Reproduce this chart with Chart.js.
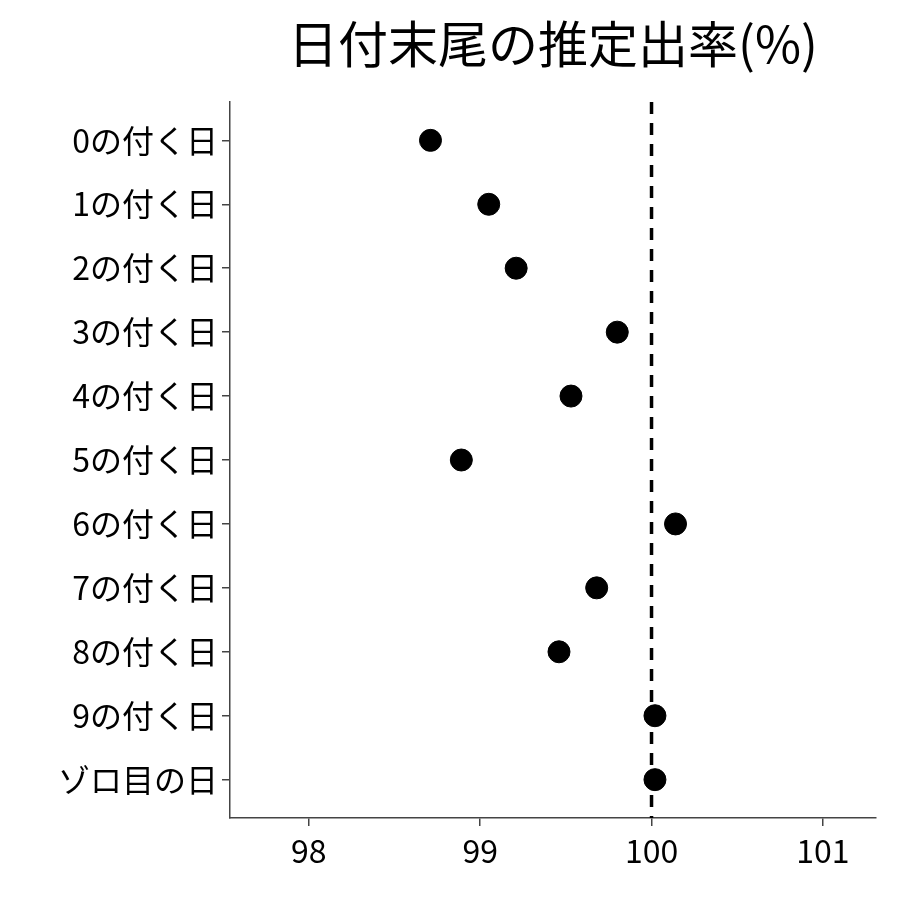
<!DOCTYPE html>
<html>
<head>
<meta charset="utf-8">
<script src="https://cdn.jsdelivr.net/npm/chart.js@4/dist/chart.umd.min.js"></script>
<style>
  body { margin: 0; background: #fff; }
  #wrap { width: 900px; height: 900px; }
</style>
</head>
<body>
<div id="wrap"><canvas id="chart" width="900" height="900"></canvas></div>
<script>
const title = '日付末尾の推定出率(%)'
const categories = ['0の付く日', '1の付く日', '2の付く日', '3の付く日', '4の付く日', '5の付く日',
    '6の付く日', '7の付く日', '8の付く日', '9の付く日', 'ゾロ目の日']
const rates = [98.71, 99.05, 99.21, 99.80, 99.53, 98.89, 100.14, 99.68, 99.46, 100.02, 100.02]
const xTicks = [98, 99, 100, 101]
const refLine = 100

const font = 'Noto Sans CJK JP'

const titlePlugin = {
    id: 'panelTitle',
    afterDraw(chart) {
        const { ctx, chartArea } = chart
        ctx.save()
        ctx.font = '50px "' + font + '"'
        ctx.fillStyle = '#000'
        ctx.textAlign = 'center'
        ctx.textBaseline = 'middle'
        ctx.fillText(title, (chartArea.left + chartArea.right) / 2, 44)
        ctx.restore()
    }
}

new Chart(document.querySelector('#chart'), {
    type: 'scatter',
    data: {
        datasets: [{
            data: rates.map((v, i) => ({ x: v, y: i })),
            backgroundColor: '#000',
            borderColor: '#000',
            pointRadius: 11,
            pointHoverRadius: 11
        }, {
            type: 'line',
            data: [{ x: refLine, y: -0.6 }, { x: refLine, y: categories.length - 0.4 }],
            borderColor: '#000',
            borderWidth: 3.5,
            borderDash: [12, 9],
            pointRadius: 0
        }]
    },
    plugins: [titlePlugin],
    options: {
        responsive: false,
        animation: false,
        devicePixelRatio: 1,
        layout: { padding: { top: 102, right: 24, left: 0, bottom: 0 } },
        plugins: { legend: { display: false }, tooltip: { enabled: false } },
        scales: {
            x: {
                type: 'linear',
                min: 97.54,
                max: 101.31,
                afterBuildTicks: s => { s.ticks = xTicks.map(v => ({ value: v })) },
                afterFit: s => { s.height = 82 },
                border: { color: '#444', width: 1.5 },
                grid: { drawOnChartArea: false, drawTicks: true, tickLength: 8, color: '#444', lineWidth: 1.5 },
                ticks: { color: '#000', font: { family: font, size: 32 }, padding: 6 }
            },
            y: {
                type: 'linear',
                reverse: true,
                min: -0.6,
                max: categories.length - 0.4,
                afterBuildTicks: s => { s.ticks = categories.map((c, i) => ({ value: i })) },
                afterFit: s => { s.width = 230 },
                border: { color: '#444', width: 1.5 },
                grid: { drawOnChartArea: false, drawTicks: true, tickLength: 8, color: '#444', lineWidth: 1.5 },
                ticks: {
                    color: '#000',
                    font: { family: font, size: 32 },
                    padding: 4,
                    callback: v => categories[v]
                }
            }
        }
    }
})
</script>
</body>
</html>
